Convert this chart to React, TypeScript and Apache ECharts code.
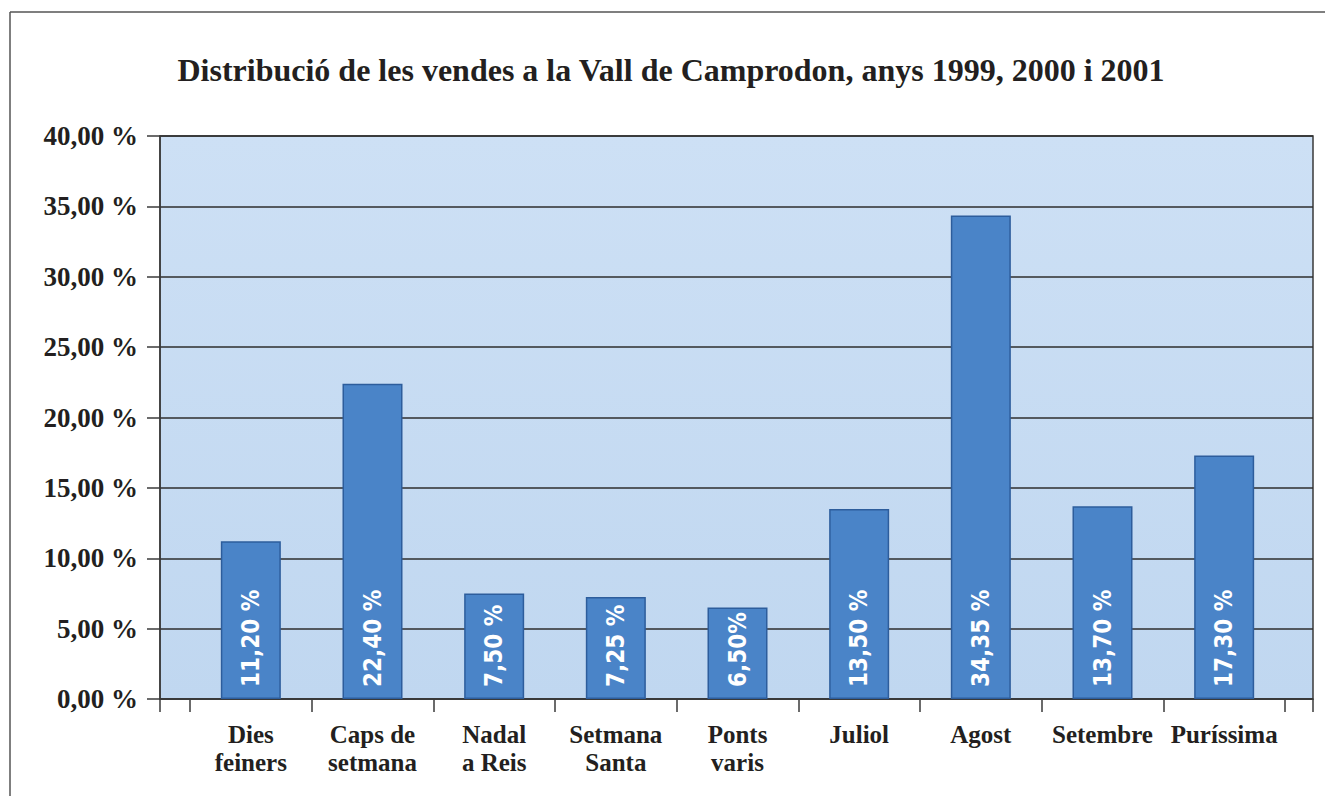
import React, { useEffect, useRef } from "react";
import * as echarts from "echarts";

const titleText = "Distribució de les vendes a la Vall de Camprodon, anys 1999, 2000 i 2001";
const categories = [
  "Dies\nfeiners",
  "Caps de\nsetmana",
  "Nadal\na Reis",
  "Setmana\nSanta",
  "Ponts\nvaris",
  "Juliol",
  "Agost",
  "Setembre",
  "Puríssima",
];
const values = [11.2, 22.4, 7.5, 7.25, 6.5, 13.5, 34.35, 13.7, 17.3];
const barLabels = ["11,20 %", "22,40 %", "7,50 %", "7,25 %", "6,50%", "13,50 %", "34,35 %", "13,70 %", "17,30 %"];
const yMin = 0;
const yMax = 40;
const yStep = 5;

const SERIF = "'Liberation Serif', 'DejaVu Serif', serif";
const NARROW = "'Liberation Sans Narrow', 'DejaVu Sans Condensed', 'Liberation Sans', sans-serif";

export default function App() {
  const ref = useRef<HTMLDivElement>(null);
  useEffect(() => {
    if (!ref.current) return;
    const chart = echarts.init(ref.current, null, { renderer: "svg" });
    chart.setOption({
      animation: false,
      backgroundColor: "#ffffff",
      graphic: [
        { type: "line", shape: { x1: 10, y1: 12, x2: 1325, y2: 12 }, style: { stroke: "#555", lineWidth: 1.5 } },
        { type: "line", shape: { x1: 10, y1: 12, x2: 10, y2: 796 }, style: { stroke: "#555", lineWidth: 1.5 } },
        {
          type: "text",
          x: 671,
          y: 70,
          style: {
            text: titleText,
            fill: "#231f20",
            font: `bold 32px ${SERIF}`,
            textAlign: "center",
            textVerticalAlign: "middle",
          },
        },
      ],
      grid: [
        {
          left: 160,
          right: 12,
          top: 136,
          bottom: 97,
          show: true,
          backgroundColor: new echarts.graphic.LinearGradient(0, 0, 0, 1, [
            { offset: 0, color: "#cde0f5" },
            { offset: 1, color: "#c0d7f0" },
          ]),
          borderColor: "#3a3a3a",
          borderWidth: 1.5,
        },
        { left: 190, right: 40, top: 136, bottom: 97 },
      ],
      xAxis: [
        {
          gridIndex: 0,
          type: "value",
          min: 0,
          max: 1,
          interval: 1,
          axisLine: { show: true, lineStyle: { color: "#3a3a3a", width: 1.5 } },
          axisTick: { show: true, length: 13, lineStyle: { color: "#3a3a3a", width: 1.5 } },
          axisLabel: { show: false },
          splitLine: { show: false },
        },
        {
          gridIndex: 1,
          type: "category",
          data: categories,
          axisLine: { show: false },
          axisTick: { show: true, length: 13, lineStyle: { color: "#3a3a3a", width: 1.5 } },
          axisLabel: {
            color: "#231f20",
            fontFamily: SERIF,
            fontWeight: "bold",
            fontSize: 25,
            lineHeight: 28,
            margin: 21,
            interval: 0,
          },
          splitLine: { show: false },
        },
      ],
      yAxis: [
        {
          gridIndex: 0,
          type: "value",
          min: yMin,
          max: yMax,
          interval: yStep,
          axisLine: { show: true, lineStyle: { color: "#3a3a3a", width: 1.5 } },
          axisTick: { show: true, length: 13, lineStyle: { color: "#3a3a3a", width: 1.5 } },
          axisLabel: {
            color: "#231f20",
            fontFamily: SERIF,
            fontWeight: "bold",
            fontSize: 27,
            margin: 22,
            formatter: (v: number) => v.toFixed(2).replace(".", ",") + " %",
          },
          splitLine: { show: true, lineStyle: { color: "#2e2e2e", width: 1.5 } },
        },
        { gridIndex: 1, type: "value", min: yMin, max: yMax, interval: yStep, show: false, splitLine: { show: false } },
      ],
      series: [
        {
          type: "bar",
          xAxisIndex: 1,
          yAxisIndex: 1,
          data: values,
          barWidth: 60,
          itemStyle: { color: "#4a84c8", borderColor: "#2d5d9c", borderWidth: 1.5 },
          label: {
            show: true,
            position: "insideBottom",
            rotate: 90,
            align: "left",
            verticalAlign: "middle",
            distance: 12,
            color: "#ffffff",
            fontFamily: NARROW,
            fontWeight: "bold",
            fontSize: 24,
            formatter: (p: any) => barLabels[p.dataIndex],
          },
        },
      ],
    });
    return () => chart.dispose();
  }, []);
  return (
    <div
      ref={ref}
      style={{ position: "absolute", left: 0, top: 0, width: 1325, height: 796 }}
    />
  );
}
